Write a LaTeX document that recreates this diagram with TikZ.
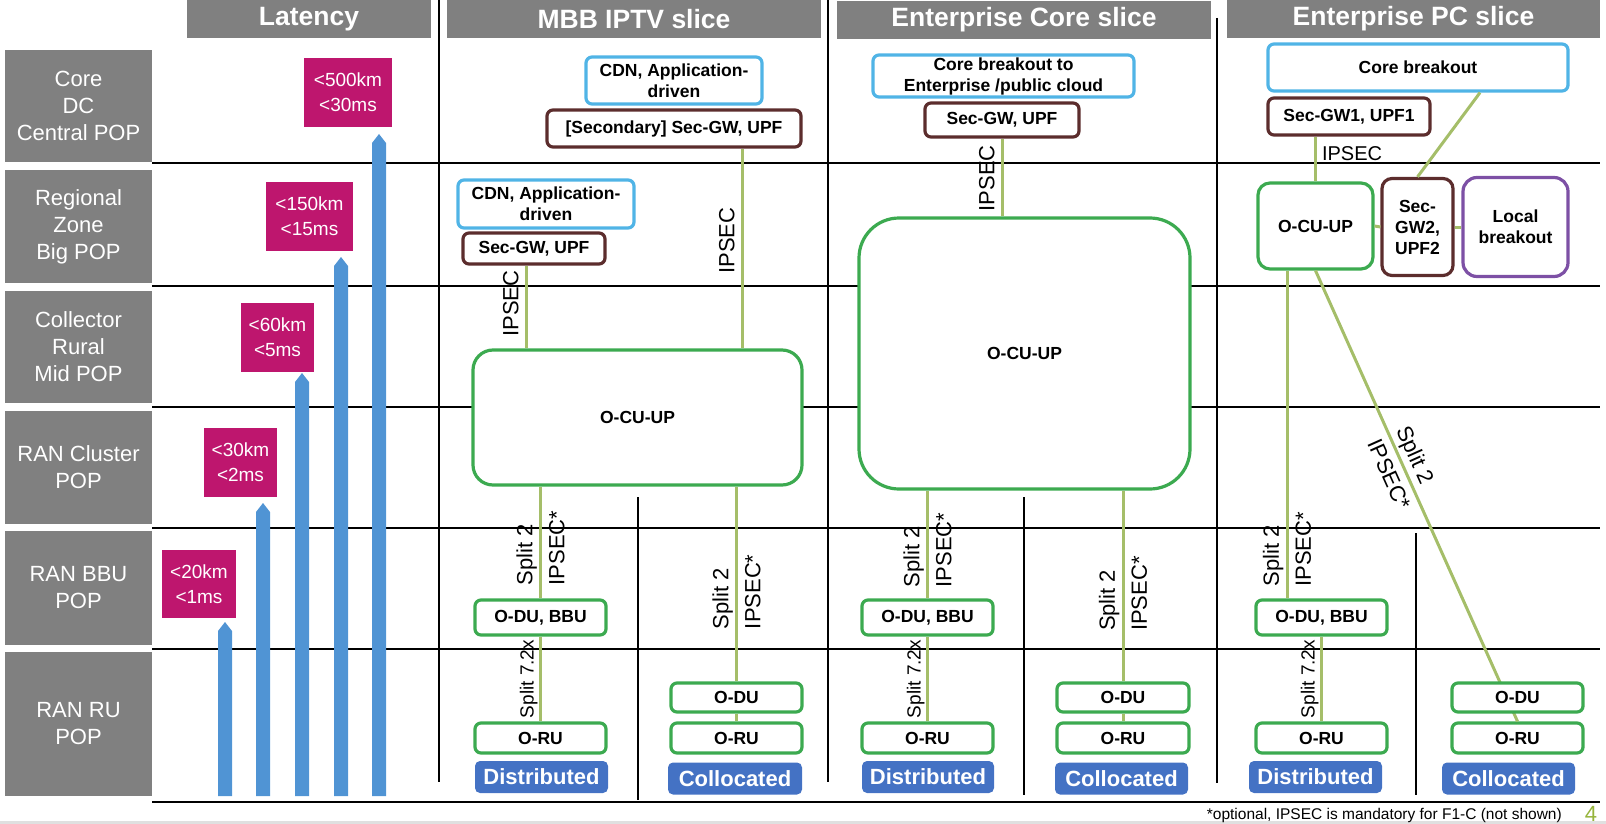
\documentclass[tikz,border=0pt]{standalone}
\usepackage{fontspec}
\setmainfont{Liberation Sans}
\usepackage{tikz}
\usetikzlibrary{calc}
\definecolor{graybox}{RGB}{128,128,128}
\definecolor{latmag}{RGB}{190,22,110}
\definecolor{barblue}{RGB}{80,148,212}
\definecolor{cdnblue}{RGB}{80,180,230}
\definecolor{gwbrown}{RGB}{92,45,45}
\definecolor{cugreen}{RGB}{60,170,80}
\definecolor{linkgreen}{RGB}{165,190,105}
\definecolor{lbpurple}{RGB}{125,80,165}
\definecolor{distblue}{RGB}{68,114,196}
\definecolor{pagenum}{RGB}{150,180,60}
\newcommand{\boxfont}{\fontsize{17.5}{21}\selectfont\bfseries}
\tikzset{
  hdr/.style={fill=graybox, text=white, font=\fontsize{26.5}{30}\selectfont\bfseries, inner sep=0pt, minimum height=38pt},
  rowlbl/.style={fill=graybox, text=white, font=\fontsize{22}{27}\selectfont, align=center, inner sep=0pt, minimum width=147pt},
  latbox/.style={fill=latmag, text=white, font=\fontsize{19}{25}\selectfont, align=center, inner sep=0pt},
  nf/.style={draw, line width=3.2pt, fill=white, rounded corners=6pt, align=center, inner sep=0pt, font=\boxfont},
  cdn/.style={nf, draw=cdnblue},
  gw/.style={nf, draw=gwbrown},
  cu/.style={nf, draw=cugreen},
  lbo/.style={nf, draw=lbpurple},
  kindtag/.style={fill=distblue, text=white, rounded corners=5pt, inner sep=0pt, minimum height=32pt, font=\fontsize{22}{24}\selectfont\bfseries},
  link/.style={draw=linkgreen, line width=3pt},
  sepline/.style={line width=1.5pt},
  ipsec/.style={font=\fontsize{22}{26}\selectfont, sloped, above=6pt, inner sep=0pt},
  split/.style={font=\fontsize{22}{32}\selectfont, align=left, sloped, inner sep=0pt},
  splitru/.style={font=\fontsize{19}{22}\selectfont, sloped, above, inner sep=1.5pt}
}

\begin{document}
\begin{tikzpicture}[x=1pt,y=-1pt]
    \useasboundingbox (0,0) rectangle (1606,824);

    \foreach \y in {163,286,407,528,649,802}
      \draw[sepline] (152,\y) -- (1600,\y);
    \foreach \x/\a/\b in {439/0/782, 828/0/782, 1217/18/783, 638/497/800, 1024/497/795, 1416/533/795}
      \draw[sepline] (\x,\a) -- (\x,\b);
    \fill[black!12] (0,821) rectangle (1606,824);

    \node[hdr, minimum width=244pt] (hLat) at (309,19) {Latency};
    \node[hdr, minimum width=374pt] (hMBB) at (634,19) {MBB IPTV slice};
    \node[hdr, minimum width=374pt] (hEC) at (1024,20) {Enterprise Core slice};
    \node[hdr, minimum width=373pt] (hPC) at (1413.5,19) {Enterprise PC slice};

    \node[rowlbl, minimum height=112pt] (rCore) at (78.5,106) {Core\\DC\\Central POP};
    \node[rowlbl, minimum height=113pt] (rReg) at (78.5,226.5) {Regional\\Zone\\Big POP};
    \node[rowlbl, minimum height=112pt] (rCol) at (78.5,347) {Collector\\Rural\\Mid POP};
    \node[rowlbl, minimum height=113pt] (rClu) at (78.5,467.5) {RAN Cluster\\POP};
    \node[rowlbl, minimum height=114pt] (rBBU) at (78.5,588) {RAN BBU\\POP};
    \node[rowlbl, minimum height=144pt] (rRU) at (78.5,724) {RAN RU\\POP};

    \foreach \x/\t in {225/622, 263/503, 302/373, 341/257, 379/134}
      \fill[barblue] (\x-7,796) -- (\x-7,\t+9) -- (\x,\t) -- (\x+7,\t+9) -- (\x+7,796) -- cycle;

    \node[latbox, minimum width=88pt, minimum height=69pt] (l500) at (348,92.5) {<500km\\<30ms};
    \node[latbox, minimum width=87pt, minimum height=69pt] (l150) at (309.5,216.5) {<150km\\<15ms};
    \node[latbox, minimum width=73pt, minimum height=69pt] (l60) at (277.5,337.5) {<60km\\<5ms};
    \node[latbox, minimum width=73pt, minimum height=69pt] (l30) at (240.5,462.5) {<30km\\<2ms};
    \node[latbox, minimum width=74pt, minimum height=68pt] (l20) at (199,584) {<20km\\<1ms};

    % MBB IPTV slice
    \node[cdn, minimum width=176pt, minimum height=47pt] (mCdnA) at (674,80.5) {CDN, Application-\\driven};
    \node[gw, minimum width=254pt, minimum height=37pt] (mGwA) at (674,128.5) {[Secondary] Sec-GW, UPF};
    \node[cdn, minimum width=176pt, minimum height=48pt] (mCdnB) at (546,204) {CDN, Application-\\driven};
    \node[gw, minimum width=142pt, minimum height=31pt] (mGwB) at (534,248.5) {Sec-GW, UPF};
    \node[cu, minimum width=329pt, minimum height=135pt, rounded corners=20pt] (mCU) at (637.5,417.5) {O-CU-UP};
    \node[cu, minimum width=131pt, minimum height=35pt] (mDU) at (540.5,617.5) {O-DU, BBU};
    \node[cu, minimum width=131pt, minimum height=30pt] (mRU) at (540.5,738) {O-RU};
    \node[kindtag, minimum width=133pt] (mDist) at (541.5,777) {Distributed};
    \node[cu, minimum width=131pt, minimum height=29pt] (mDUc) at (736.5,697.5) {O-DU};
    \node[cu, minimum width=131pt, minimum height=30pt] (mRUc) at (736.5,738) {O-RU};
    \node[kindtag, minimum width=134pt] (mColl) at (735,778.5) {Collocated};

    \coordinate (mIpA) at ([xshift=68pt]mGwA.south);
    \coordinate (mIpB) at ([xshift=-8pt]mGwB.south);
    \draw[link] (mIpA |- mCU.north) --node[ipsec, pos=0.54]{IPSEC} (mIpA);
    \draw[link] (mIpB |- mCU.north) --node[ipsec, pos=0.54]{IPSEC} (mIpB);
    \draw[link] (mDU.north) --node[split, pos=0.45]{Split 2\\IPSEC*} (mDU.north |- mCU.south);
    \draw[link] (mRU.north) --node[splitru]{Split 7.2x} (mDU.south);
    \draw[link] (mDUc.north) --node[split, pos=0.46]{Split 2\\IPSEC*} (mDUc.north |- mCU.south);
    \draw[link] (mDUc.south) -- (mRUc.north);

    % Enterprise Core slice
    \node[cdn, minimum width=261pt, minimum height=42pt] (eCB) at (1003.5,76) {Core breakout to\\Enterprise /public cloud};
    \node[gw, minimum width=154pt, minimum height=34pt] (eGw) at (1002,120) {Sec-GW, UPF};
    \node[cu, minimum width=331pt, minimum height=271pt, rounded corners=40pt] (eCU) at (1024.5,353.5) {O-CU-UP};
    \node[cu, minimum width=131pt, minimum height=35pt] (eDU) at (927.5,617.5) {O-DU, BBU};
    \node[cu, minimum width=131pt, minimum height=30pt] (eRU) at (927.5,738) {O-RU};
    \node[kindtag, minimum width=132pt] (eDist) at (928,777) {Distributed};
    \node[cu, minimum width=132pt, minimum height=29pt] (eDUc) at (1123,697.5) {O-DU};
    \node[cu, minimum width=132pt, minimum height=30pt] (eRUc) at (1123,738) {O-RU};
    \node[kindtag, minimum width=133pt] (eColl) at (1121.5,778.5) {Collocated};

    \draw[link] (eGw.south |- eCU.north) --node[ipsec, pos=0.49]{IPSEC} (eGw.south);
    \draw[link] (eDU.north) --node[split, pos=0.45]{Split 2\\IPSEC*} (eDU.north |- eCU.south);
    \draw[link] (eRU.north) --node[splitru]{Split 7.2x} (eDU.south);
    \draw[link] (eDUc.north) --node[split, pos=0.46]{Split 2\\IPSEC*} (eDUc.north |- eCU.south);
    \draw[link] (eDUc.south) -- (eRUc.north);

    % Enterprise PC slice
    \node[cdn, minimum width=300pt, minimum height=47pt] (pCB) at (1418,67.5) {Core breakout};
    \node[gw, minimum width=162pt, minimum height=37pt] (pGw1) at (1349,116.5) {Sec-GW1, UPF1};
    \node[cu, minimum width=115pt, minimum height=86pt, rounded corners=12pt] (pCU) at (1315.5,226) {O-CU-UP};
    \node[gw, minimum width=71pt, minimum height=97pt, rounded corners=10pt] (pGw2) at (1417.5,227) {Sec-\\GW2,\\UPF2};
    \node[lbo, minimum width=105pt, minimum height=99pt, rounded corners=14pt] (pLB) at (1515.5,227) {Local\\breakout};
    \node[cu, minimum width=131pt, minimum height=35pt] (pDU) at (1321.5,617.5) {O-DU, BBU};
    \node[cu, minimum width=131pt, minimum height=30pt] (pRU) at (1321.5,738) {O-RU};
    \node[kindtag, minimum width=133pt] (pDist) at (1315.5,777) {Distributed};
    \node[cu, minimum width=131pt, minimum height=30pt] (pRUc) at (1517.5,738) {O-RU};

    \coordinate (pCBfoot) at ([xshift=62pt]pCB.south);
    \coordinate (pCUleg) at ([xshift=-28.5pt]pCU.south);
    \draw[link] (pCU.north |- pGw1.south) --node[right, pos=0.38, inner sep=5pt, font=\fontsize{20}{24}\selectfont]{IPSEC} (pCU.north);
    \draw[link] (pCBfoot) -- (pGw2.north);
    \draw[link] (pCU.east) -- (pGw2.west);
    \draw[link] (pGw2.east) -- (pLB.west);
    \draw[link] (pDU.north -| pCUleg) --node[split, pos=0.15]{Split 2\\IPSEC*} (pCUleg);
    \draw[link] (pRU.north) --node[splitru]{Split 7.2x} (pDU.south);
    \draw[link] (pCU.south) --node[split, pos=0.437]{Split 2\\IPSEC*} (pRUc.north);

    \node[cu, minimum width=131pt, minimum height=29pt] (pDUc) at (1517.5,697.5) {O-DU};
    \node[kindtag, minimum width=133pt] (pColl) at (1508.5,778.5) {Collocated};

    \node[font=\fontsize{15.5}{18}\selectfont, anchor=east, inner sep=0pt] (fnote) at (1562,815) {*optional, IPSEC is mandatory for F1-C (not shown)};
    \node[font=\fontsize{22}{24}\selectfont, text=pagenum, inner sep=0pt] (pgno) at (1591,814) {4};
  \end{tikzpicture}
\end{document}
